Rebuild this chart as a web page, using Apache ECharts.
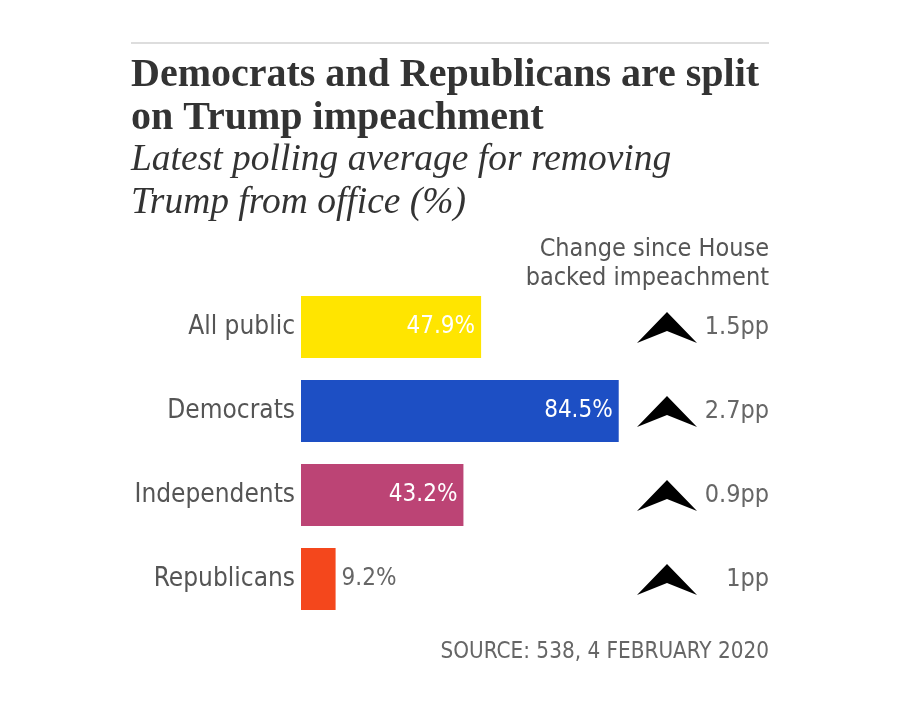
<!DOCTYPE html>
<html>
<head>
<meta charset="utf-8">
<script src="https://cdn.jsdelivr.net/npm/echarts@6/dist/echarts.min.js"></script>
<style>
html,body{margin:0;padding:0;background:#fff;}
#chart{width:900px;height:704px;}
</style>
</head>
<body>
<div id="chart"></div>
<script>
const categories = ['All public', 'Democrats', 'Independents', 'Republicans'];
const values = [47.9, 84.5, 43.2, 9.2];
const changes = [1.5, 2.7, 0.9, 1];
const barColors = ['#FFE500', '#1D4FC4', '#BC4475', '#F4471C'];

const condensed = "'Liberation Sans Narrow', 'DejaVu Sans Condensed', sans-serif";
const serif = "'Liberation Serif', 'DejaVu Serif', serif";

const chart = echarts.init(document.getElementById('chart'));

const option = {
  backgroundColor: '#ffffff',
  animation: false,
  title: [
    {
      text: 'Democrats and Republicans are split\non Trump impeachment',
      left: 131, top: 54, padding: 0,
      textStyle: {fontFamily: serif, fontWeight: 'bold', fontSize: 40, lineHeight: 43, color: '#333333'}
    },
    {
      text: 'Latest polling average for removing\nTrump from office (%)',
      left: 131, top: 139, padding: 0,
      textStyle: {fontFamily: serif, fontStyle: 'italic', fontWeight: 'normal', fontSize: 37.5, lineHeight: 43, color: '#333333'}
    }
  ],
  graphic: [
    {type: 'line', shape: {x1: 131, y1: 43, x2: 769, y2: 43}, style: {stroke: '#dddddd', lineWidth: 2}},
    {type: 'text', style: {text: 'Change since House', x: 769, y: 249, align: 'right', verticalAlign: 'middle',
      fontFamily: condensed, fontSize: 25, fill: '#555555'}},
    {type: 'text', style: {text: 'backed impeachment', x: 769, y: 278, align: 'right', verticalAlign: 'middle',
      fontFamily: condensed, fontSize: 25, fill: '#555555'}},
    {type: 'text', style: {text: 'SOURCE: 538, 4 FEBRUARY 2020', x: 769, y: 652, align: 'right', verticalAlign: 'middle',
      fontFamily: condensed, fontSize: 22.3, fill: '#666666'}}
  ],
  grid: {left: 301, top: 285, width: 376, height: 336, containLabel: false},
  xAxis: {type: 'value', min: 0, max: 100, show: false},
  yAxis: {
    type: 'category', data: categories, inverse: true,
    axisLine: {show: false}, axisTick: {show: false},
    axisLabel: {fontFamily: condensed, fontSize: 26, color: '#555555', margin: 6}
  },
  series: [
    {
      type: 'bar',
      barWidth: 62,
      data: values.map((v, i) => ({
        value: v,
        itemStyle: {color: barColors[i]},
        label: v > 20
          ? {show: true, position: 'insideRight', distance: 6, color: '#ffffff'}
          : {show: true, position: 'right', distance: 6, color: '#666666'}
      })),
      label: {show: true, fontFamily: condensed, fontSize: 24, formatter: p => p.value.toFixed(1) + '%'}
    },
    {
      type: 'custom',
      clip: false,
      data: changes.map((c, i) => [i, c]),
      encode: {y: 0},
      renderItem: function (params, api) {
        const idx = api.value(0);
        const ch = api.value(1);
        const pt = api.coord([0, idx]);
        const cy = pt[1];
        const cx = 667;
        const up = ch >= 0;
        const s = up ? 1 : -1;
        const pts = [
          [cx, cy - 15 * s],
          [cx + 30, cy + 16 * s],
          [cx, cy + 4 * s],
          [cx - 30, cy + 16 * s]
        ];
        return {
          type: 'group',
          children: [
            {type: 'polygon', shape: {points: pts}, style: {fill: '#000000'}},
            {type: 'text', style: {text: ch + 'pp', x: 769, y: cy, align: 'right', verticalAlign: 'middle',
              fontFamily: condensed, fontSize: 25, fill: '#666666'}}
          ]
        };
      }
    }
  ]
};
chart.setOption(option);
</script>
</body>
</html>
